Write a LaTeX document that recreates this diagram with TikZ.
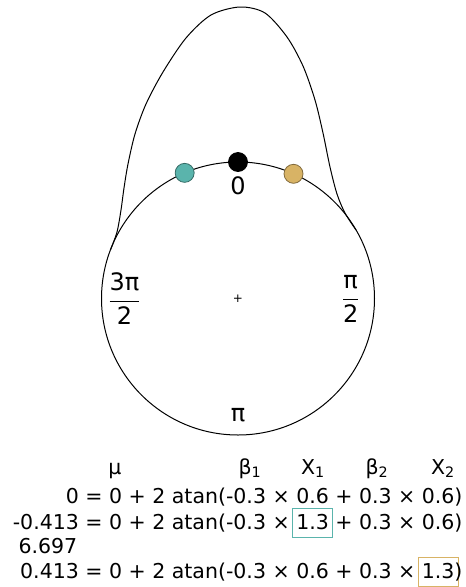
\documentclass[tikz,border=0pt]{standalone}
\usepackage{fontspec}
\setmainfont{DejaVu Sans}
\usetikzlibrary{positioning}
\definecolor{tealdot}{HTML}{5AB4AC}
\definecolor{ochredot}{HTML}{D8B365}
% colour frame laid over a number, takes no room
\newcommand{\selbox}[2]{\makebox[0pt][l]{\hspace{-4pt}\textcolor{#1}{\setlength{\fboxsep}{0pt}\setlength{\fboxrule}{1.1pt}\fbox{\hspace{3pt}\phantom{#2}\hspace{3pt}\rule[-8pt]{0pt}{28pt}}}}#2}

\begin{document}
\begin{tikzpicture}[x=1pt, y=-1pt, line width=1pt,
    dot/.style={circle, draw, line width=0.8pt, minimum size=19pt, inner sep=0pt},
    lbl/.style={inner sep=0pt, font=\fontsize{24}{29}\selectfont},
    row/.style={inner sep=0pt, font=\fontsize{20.5}{24}\selectfont}]
  \useasboundingbox (0,0) rectangle (466,587);
  \node[draw, circle, minimum size=273pt, inner sep=0pt, outer sep=0pt] (rim) at (238,298.5) {};
  % density around the rim
  \draw plot[smooth, tension=0.5] coordinates {(110.4,250) (117,232) (121,210) (124,188) (128,164)
    (135,134) (146,104) (163,72) (186,38) (211,15) (240,7) (265,13) (287,37) (303,66)
    (315,100) (323,133) (330,167) (337,194) (345,213) (356,230)};
  \node[dot, fill=black] (d0) at (rim.north) {};
  \node[dot, fill=tealdot, draw=tealdot!60!black] (d1) at (rim.113.66) {};
  \node[dot, fill=ochredot, draw=ochredot!60!black] (d2) at (rim.66.34) {};
  \node[lbl] (l0) [below=4pt of d0] {0};
  \node[inner sep=0pt, font=\fontsize{12}{14}\selectfont] (c) at (rim.center) {+};
  \node[lbl, anchor=west] (l3) [right=6.5pt of rim.west] {$\displaystyle\frac{\mbox{3π}}{\mbox{2}}$};
  \node[lbl, anchor=east] (l1) [left=14.5pt of rim.east] {$\displaystyle\frac{\mbox{π}}{\mbox{2}}$};
  \node[lbl] (l2) [above=13pt of rim.south] {π};
  % header and rows
  \node[row, anchor=base] (mu) at (115,474) {μ};
  \node[row, anchor=base] (b1) at (250,474) {β\textsubscript{1}};
  \node[row, anchor=base] (x1) at (313,474) {X\textsubscript{1}};
  \node[row, anchor=base] (b2) at (377,474) {β\textsubscript{2}};
  \node[row, anchor=base] (x2) at (443,474) {X\textsubscript{2}};
  \node[row, anchor=base east] (r1) at (463,503) {0 = 0 + 2 atan(-0.3 × 0.6 + 0.3 × 0.6)};
  \node[row, anchor=base east] (r2) at (463,529) {-0.413 = 0 + 2 atan(-0.3 × \selbox{tealdot}{1.3} + 0.3 × 0.6)};
  \node[row, anchor=base west] (r4) at (18,553) {6.697};
  \node[row, anchor=base east] (r3) at (463,578) {0.413 = 0 + 2 atan(-0.3 × 0.6 + 0.3 × \selbox{ochredot}{1.3})};
\end{tikzpicture}
\end{document}
